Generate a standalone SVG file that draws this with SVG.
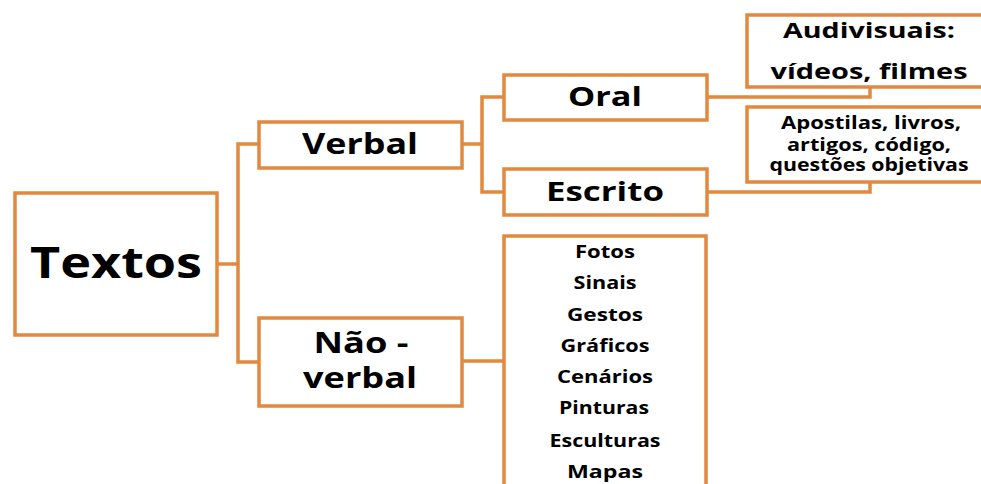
<svg xmlns="http://www.w3.org/2000/svg" width="981" height="484" viewBox="0 0 981 484">
<style>
.box{fill:#fff;stroke:#E2883F;stroke-width:3.5}
.ln{fill:none;stroke:#E2883F;stroke-width:3.5}
text{font-family:"Open Sans","Noto Sans",sans-serif;font-weight:700;fill:#000;text-anchor:middle}
</style>
<rect width="981" height="484" fill="#fff"/>
<g id="connectors">
<path class="ln" d="M217 264 H238 M259 144 H238 V362 H259"/>
<path class="ln" d="M462 144 H482 M504 97 H482 V192 H504"/>
<path class="ln" d="M462 361 H504"/>
<path class="ln" d="M707 97 H870 V87"/>
<path class="ln" d="M707 192 H870 V182"/>
</g>
<g id="textos">
<rect class="box" x="15" y="193" width="202" height="142"/>
<text x="116" y="278" font-size="43" textLength="172" lengthAdjust="spacingAndGlyphs">Textos</text>
</g>
<g id="verbal">
<rect class="box" x="259" y="122" width="203" height="46"/>
<text x="360" y="154" font-size="29" textLength="116" lengthAdjust="spacingAndGlyphs">Verbal</text>
</g>
<g id="naoverbal">
<rect class="box" x="259" y="318" width="203" height="88"/>
<text x="361" y="353" font-size="29" textLength="95" lengthAdjust="spacingAndGlyphs">Não -</text>
<text x="360" y="388" font-size="29" textLength="114" lengthAdjust="spacingAndGlyphs">verbal</text>
</g>
<g id="oral">
<rect class="box" x="504" y="75" width="203" height="45"/>
<text x="605" y="106" font-size="27" textLength="74" lengthAdjust="spacingAndGlyphs">Oral</text>
</g>
<g id="escrito">
<rect class="box" x="504" y="169" width="203" height="46"/>
<text x="605" y="201" font-size="27" textLength="118" lengthAdjust="spacingAndGlyphs">Escrito</text>
</g>
<g id="lista">
<rect class="box" x="504" y="236" width="202" height="270"/>
<text x="605" y="258" font-size="18" textLength="60" lengthAdjust="spacingAndGlyphs">Fotos</text>
<text x="605" y="289" font-size="18" textLength="63" lengthAdjust="spacingAndGlyphs">Sinais</text>
<text x="605" y="321" font-size="18" textLength="76" lengthAdjust="spacingAndGlyphs">Gestos</text>
<text x="605" y="352" font-size="18" textLength="89" lengthAdjust="spacingAndGlyphs">Gráficos</text>
<text x="605" y="383" font-size="18" textLength="96" lengthAdjust="spacingAndGlyphs">Cenários</text>
<text x="604" y="414" font-size="18" textLength="90" lengthAdjust="spacingAndGlyphs">Pinturas</text>
<text x="605" y="447" font-size="18" textLength="111" lengthAdjust="spacingAndGlyphs">Esculturas</text>
<text x="605" y="478" font-size="18" textLength="76" lengthAdjust="spacingAndGlyphs">Mapas</text>
</g>
<g id="audiovisuais">
<rect class="box" x="747" y="15" width="250" height="72"/>
<text x="869" y="38" font-size="22" textLength="172" lengthAdjust="spacingAndGlyphs">Audivisuais:</text>
<text x="869" y="79" font-size="22" textLength="197" lengthAdjust="spacingAndGlyphs">vídeos, filmes</text>
</g>
<g id="apostilas">
<rect class="box" x="747" y="107" width="250" height="75"/>
<text x="871" y="129" font-size="17" textLength="180" lengthAdjust="spacingAndGlyphs">Apostilas, livros,</text>
<text x="869" y="151" font-size="17" textLength="164" lengthAdjust="spacingAndGlyphs">artigos, código,</text>
<text x="869" y="171" font-size="17" textLength="199" lengthAdjust="spacingAndGlyphs">questões objetivas</text>
</g>
</svg>
